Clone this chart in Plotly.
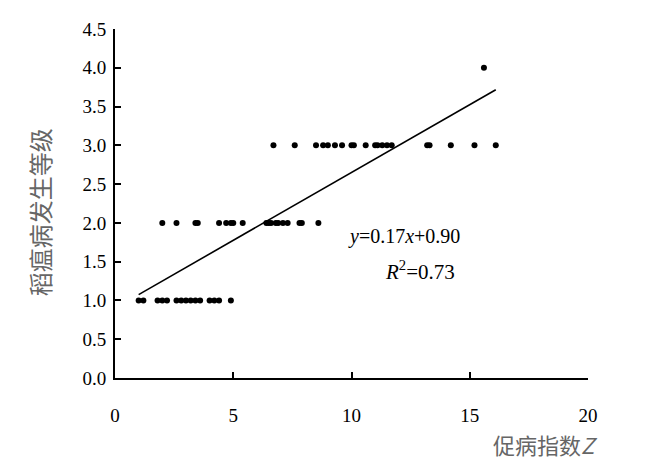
import plotly.graph_objects as go
import numpy as np

# Data
x_level1 = [1.0, 1.2, 1.8, 2.0, 2.2, 2.6, 2.8, 3.0, 3.2, 3.4, 3.6, 4.0, 4.2, 4.4, 4.9]
x_level2 = [2.0, 2.6, 3.4, 3.5, 4.4, 4.7, 4.9, 5.0, 5.4, 6.4, 6.5, 6.6, 6.8, 6.9, 7.1, 7.3, 7.8, 7.9, 8.6]
x_level3 = [6.7, 7.6, 8.5, 8.8, 9.0, 9.3, 9.6, 10.0, 10.1, 10.6, 11.0, 11.1, 11.3, 11.5, 11.7,
            13.2, 13.3, 14.2, 15.2, 16.1]
x_level4 = [15.6]

xs = x_level1 + x_level2 + x_level3 + x_level4
ys = [1.0] * len(x_level1) + [2.0] * len(x_level2) + [3.0] * len(x_level3) + [4.0] * len(x_level4)

slope = 0.175
intercept = 0.90
fit_x = np.array([min(xs), max(xs)])
fit_y = slope * fit_x + intercept

x_ticks = [0, 5, 10, 15, 20]
y_ticks = [0.0, 0.5, 1.0, 1.5, 2.0, 2.5, 3.0, 3.5, 4.0, 4.5]

fig = go.Figure()
fig.add_trace(go.Scatter(x=xs, y=ys, mode="markers",
                         marker=dict(color="black", size=6), showlegend=False))
fig.add_trace(go.Scatter(x=fit_x, y=fit_y, mode="lines",
                         line=dict(color="black", width=1.6), showlegend=False))

serif = "Liberation Serif, Times New Roman, serif"
fig.update_layout(
    width=660, height=457,
    margin=dict(l=107, r=80, t=21, b=87, autoexpand=False),
    plot_bgcolor="white", paper_bgcolor="white",
    font=dict(family=serif, size=19, color="black"),
    xaxis=dict(range=[0, 20], tickvals=x_ticks, ticktext=[str(v) for v in x_ticks],
               showgrid=False, zeroline=False, showline=True, linecolor="black", linewidth=2,
               ticks="inside", ticklen=6, tickwidth=2, tickcolor="black",
               ticklabelstandoff=19, automargin=False),
    yaxis=dict(range=[0, 4.5], tickvals=y_ticks, ticktext=[f"{v:.1f}" for v in y_ticks],
               showgrid=False, zeroline=False, showline=True, linecolor="black", linewidth=2,
               ticks="inside", ticklen=6, tickwidth=2, tickcolor="black",
               ticklabelstandoff=3, automargin=False),
    annotations=[
        dict(x=12.2, y=1.82, xref="x", yref="y", showarrow=False,
             text=f"<i>y</i>=0.17<i>x</i>+0.90", font=dict(family=serif, size=20)),
        dict(x=12.9, y=1.38, xref="x", yref="y", showarrow=False,
             text="<i>R</i><sup>2</sup>=0.73", font=dict(family=serif, size=21)),
        dict(x=1.025, y=-0.19, xref="paper", yref="paper", showarrow=False,
             xanchor="right", yanchor="middle",
             text="促病指数<i>Z</i>", font=dict(family="Noto Sans CJK SC", size=22, color="#666666")),
        dict(x=-0.158, y=0.476, xref="paper", yref="paper", showarrow=False,
             textangle=-90, xanchor="center", yanchor="middle",
             text="稻瘟病发生等级", font=dict(family="Noto Sans CJK SC", size=24, color="#666666")),
    ],
)

fig.write_html("out.html")
